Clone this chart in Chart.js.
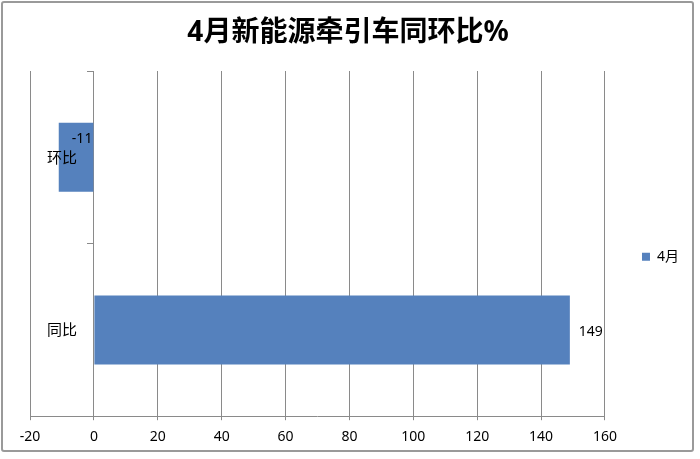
<!DOCTYPE html>
<html lang="zh-CN">
<head>
  <meta charset="UTF-8">
  <title>4月新能源牵引车同环比%</title>
  <script src="https://cdn.jsdelivr.net/npm/chart.js"></script>
  <style>
    html, body { margin: 0; padding: 0; background: #fff; }
    .frame {
      position: absolute; left: 1px; top: 1px; width: 693px; height: 451px;
      border: 2px solid #9a9a9a; border-radius: 3px; box-sizing: border-box;
    }
    .wrap { position: absolute; left: 0; top: 0; width: 700px; height: 459px; }
  </style>
</head>
<body>
  <div class="wrap"><canvas id="chart" width="700" height="459"></canvas></div>
  <div class="frame"></div>

  <script>
    const titleText = '4月新能源牵引车同环比%';
    const categories = ['环比', '同比'];
    const seriesName = '4月';
    const seriesValues = [-11, 149];
    const xMin = -20;
    const xMax = 160;
    const xStep = 20;

    const FONT = "'Noto Sans', 'Noto Sans CJK SC', sans-serif";
    const barColor = '#5581bd';
    const gridColor = '#8a8a8a';

    // 标题、分类标签和数据标签自己画（标题居中于整张图，标签压在柱子上）
    const overlayLabels = {
      id: 'overlayLabels',
      afterDatasetsDraw(chart) {
        const ctx = chart.ctx;
        const yScale = chart.scales.y;
        const xScale = chart.scales.x;
        const meta = chart.getDatasetMeta(0);
        ctx.save();
        ctx.fillStyle = '#000';
        ctx.textBaseline = 'middle';

        // 标题
        ctx.textAlign = 'center';
        ctx.font = 'bold 28px ' + FONT;
        ctx.fillText(titleText, chart.width / 2 - 2, 33);

        // 分类标签
        ctx.font = '15px ' + FONT;
        ctx.textAlign = 'right';
        categories.forEach((c, i) => {
          ctx.fillText(c, xScale.getPixelForValue(0) - 17, yScale.getPixelForValue(i) + 1);
        });

        // 数值
        ctx.font = '14px ' + FONT;
        meta.data.forEach((bar, i) => {
          const v = seriesValues[i];
          if (v < 0) {
            ctx.textAlign = 'right';
            ctx.fillText(String(v), bar.base - 1, bar.y - 18);
          } else {
            ctx.textAlign = 'left';
            ctx.fillText(String(v), bar.x + 9, bar.y + 2);
          }
        });
        ctx.restore();
      }
    };

    new Chart(document.getElementById('chart'), {
      type: 'bar',
      data: {
        labels: categories,
        datasets: [{
          label: seriesName,
          data: seriesValues,
          backgroundColor: barColor,
          borderWidth: 0,
          barPercentage: 0.4,
          categoryPercentage: 1
        }]
      },
      options: {
        indexAxis: 'y',
        responsive: false,
        animation: false,
        layout: { padding: { left: 30, right: 11, top: 71, bottom: 6 } },
        plugins: {
          title: { display: false },
          legend: {
            display: true,
            position: 'right',
            fullSize: false,
            maxWidth: 94,
            title: { display: true, text: '', font: { size: 12 }, padding: { top: 6, bottom: 6 } },
            labels: {
              boxWidth: 8,
              boxHeight: 8,
              padding: 37,
              color: '#000',
              font: { family: FONT, size: 14 }
            }
          },
          tooltip: { enabled: false }
        },
        scales: {
          x: {
            type: 'linear',
            min: xMin,
            max: xMax,
            ticks: { stepSize: xStep, color: '#000', padding: 8, font: { family: FONT, size: 14 } },
            grid: { color: gridColor, lineWidth: 1, tickLength: 4, tickColor: gridColor },
            border: { color: gridColor, width: 1 }
          },
          y: {
            position: { x: 0 },
            ticks: { display: false },
            grid: { drawOnChartArea: false, tickLength: 6, color: gridColor, offset: true },
            border: { color: gridColor, width: 1 }
          }
        }
      },
      plugins: [overlayLabels]
    });
  </script>
</body>
</html>
